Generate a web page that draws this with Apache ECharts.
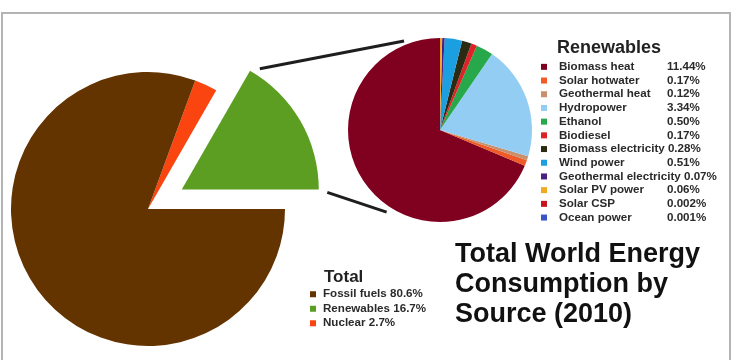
<!DOCTYPE html>
<html>
<head>
<meta charset="utf-8">
<script src="https://cdn.jsdelivr.net/npm/echarts@6/dist/echarts.min.js"></script>
<style>
  html, body { margin: 0; padding: 0; background: #fff; }
  #chart { width: 738px; height: 360px; }
</style>
</head>
<body>
<div id="chart"></div>
<script>
// 数据
let totalNames = ['Renewables', 'Nuclear', 'Fossil fuels']
let totalValues = [16.7, 2.7, 80.6]
let totalLegendOrder = ['Fossil fuels', 'Renewables', 'Nuclear']

let renewNames = ['Biomass heat', 'Solar hotwater', 'Geothermal heat', 'Hydropower', 'Ethanol', 'Biodiesel',
  'Biomass electricity', 'Wind power', 'Geothermal electricity', 'Solar PV power', 'Solar CSP', 'Ocean power']
let renewValues = [11.44, 0.17, 0.12, 3.34, 0.50, 0.17, 0.28, 0.51, 0.07, 0.06, 0.002, 0.001]

// 颜色
let totalColors = ['#5b9e22', '#fb4510', '#633300']
let renewColors = ['#80001f', '#ef5a26', '#c9906e', '#93cdf3', '#27a84a', '#dc2328',
  '#2b2b14', '#1c9fe0', '#4a2086', '#f0aa1e', '#c4161c', '#3a55c8']

// 布局
let font = 'Liberation Sans, Arial, sans-serif'
let bigC = [148, 209], bigR = 137, pull = 39
let smallC = [440, 130], smallR = 92
let fs = 11.6

let fmtPct = function (v, d) { return v.toFixed(d) + '%' }

// 引线：从拉出的扇区两角指向小饼图
let rad = Math.PI / 180
let midA = (totalValues[0] / 100 * 360) / 2
let pc = [bigC[0] + pull * Math.cos(midA * rad), bigC[1] - pull * Math.sin(midA * rad)]
let endA = totalValues[0] / 100 * 360
let tip = [pc[0] + bigR * Math.cos(endA * rad), pc[1] - bigR * Math.sin(endA * rad)]
let corner = [pc[0] + bigR, pc[1]]
let onSmall = function (a, extra) {
  return [smallC[0] + (smallR + extra) * Math.cos(a * rad), smallC[1] - (smallR + extra) * Math.sin(a * rad)]
}
let shrink = function (p, q, gap) {
  let dx = q[0] - p[0], dy = q[1] - p[1], l = Math.sqrt(dx * dx + dy * dy)
  return [p[0] + dx / l * gap, p[1] + dy / l * gap]
}
let upEnd = onSmall(112, 4), lowEnd = onSmall(237, 6)
let upStart = shrink(tip, upEnd, 10), lowStart = shrink(corner, lowEnd, 9)

let el = document.querySelector('#chart')
let chart = echarts.init(el)

let txt = { fontFamily: font, fontSize: fs, fontWeight: 'bold', color: '#2a2a2a' }

let option = {
  animation: false,
  backgroundColor: '#fff',
  title: [
    {
      text: 'Renewables', left: 557, top: 38, padding: 0,
      textStyle: { fontFamily: font, fontSize: 18, fontWeight: 'bold', color: '#222', lineHeight: 20 }
    },
    {
      text: 'Total', left: 324, top: 267, padding: 0,
      textStyle: { fontFamily: font, fontSize: 17, fontWeight: 'bold', color: '#222', lineHeight: 20 }
    },
    {
      text: 'Total World Energy\nConsumption by\nSource (2010)', left: 455, top: 240, padding: 0,
      textStyle: { fontFamily: font, fontSize: 27, fontWeight: 'bold', color: '#111', lineHeight: 30 }
    }
  ],
  legend: [
    {
      data: totalLegendOrder,
      orient: 'vertical', left: 310, top: 287, padding: 0,
      itemWidth: 6, itemHeight: 6, itemGap: 0, icon: 'rect',
      selectedMode: false,
      formatter: function (name) {
        return '{n|' + name + ' ' + fmtPct(totalValues[totalNames.indexOf(name)], 1) + '}'
      },
      textStyle: Object.assign({ lineHeight: 14.5, rich: { n: Object.assign({ lineHeight: 14.5, padding: [0, 0, 0, 2] }, txt) } }, txt)
    },
    {
      data: renewNames,
      orient: 'vertical', left: 541, top: 60, padding: 0,
      itemWidth: 6, itemHeight: 6, itemGap: 0, icon: 'rect',
      selectedMode: false,
      formatter: function (name) {
        let v = renewValues[renewNames.indexOf(name)]
        let s = fmtPct(v, v < 0.01 ? 3 : 2)
        if (name.length > 16) return '{l|' + name + ' ' + s + '}'
        return '{n|' + name + '}{v|' + s + '}'
      },
      textStyle: Object.assign({
        lineHeight: 13.7,
        rich: {
          n: Object.assign({ lineHeight: 13.7, width: 108, padding: [0, 0, 0, 7] }, txt),
          v: Object.assign({ lineHeight: 13.7 }, txt),
          l: Object.assign({ lineHeight: 13.7, padding: [0, 0, 0, 7] }, txt)
        }
      }, txt)
    }
  ],
  graphic: [
    {
      type: 'rect', shape: { x: 2, y: 13, width: 728, height: 400 },
      style: { fill: 'none', stroke: '#b4b4b4', lineWidth: 2 }, silent: true
    },
    {
      type: 'line', shape: { x1: upStart[0], y1: upStart[1], x2: upEnd[0], y2: upEnd[1] },
      style: { stroke: '#1e1e1e', lineWidth: 3 }, silent: true
    },
    {
      type: 'line', shape: { x1: lowStart[0], y1: lowStart[1], x2: lowEnd[0], y2: lowEnd[1] },
      style: { stroke: '#1e1e1e', lineWidth: 3 }, silent: true
    }
  ],
  series: [
    {
      type: 'pie',
      center: bigC, radius: bigR,
      startAngle: 0, clockwise: false,
      selectedMode: 'single', selectedOffset: pull,
      label: { show: false }, labelLine: { show: false },
      emphasis: { disabled: true },
      data: totalNames.map((n, i) => ({
        name: n, value: totalValues[i], selected: i === 0,
        itemStyle: { color: totalColors[i] }
      }))
    },
    {
      type: 'pie',
      center: smallC, radius: smallR,
      startAngle: 90, clockwise: false,
      minAngle: 0,
      label: { show: false }, labelLine: { show: false },
      emphasis: { disabled: true },
      data: renewNames.map((n, i) => ({
        name: n, value: renewValues[i],
        itemStyle: { color: renewColors[i] }
      }))
    }
  ]
}

chart.setOption(option)
</script>
</body>
</html>
